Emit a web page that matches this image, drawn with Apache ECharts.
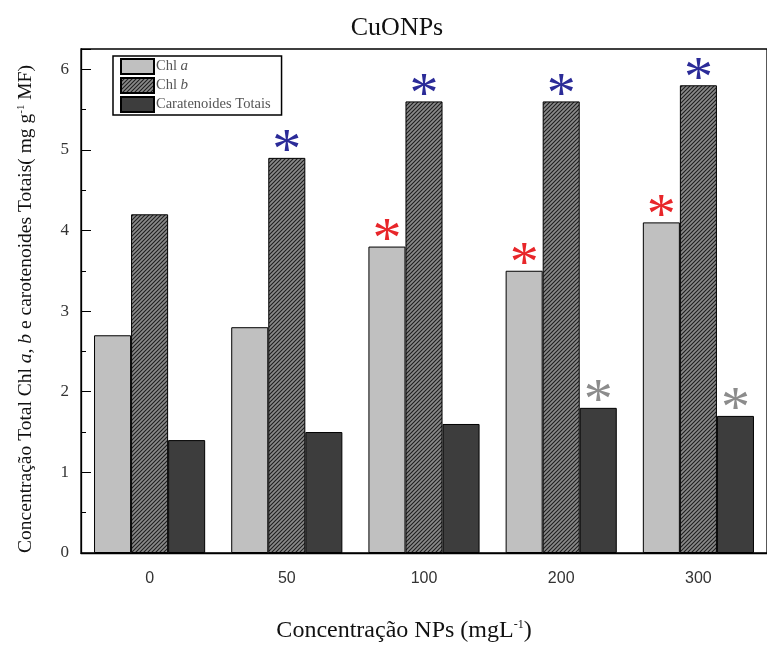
<!DOCTYPE html>
<html>
<head>
<meta charset="utf-8">
<script src="https://cdn.jsdelivr.net/npm/echarts@6/dist/echarts.min.js"></script>
<style>
  html, body { margin: 0; padding: 0; background: #fff; }
  #chart { width: 767px; height: 648px; }
</style>
</head>
<body>
<div id="chart"></div>
<script>
// Nanoparticle concentrations (mg L-1)
const categories = ['0', '50', '100', '200', '300'];

// Pigment contents (mg g-1 MF)
const chlA = [2.7, 2.8, 3.8, 3.5, 4.1];
const chlB = [4.2, 4.9, 5.6, 5.6, 5.8];
const carotenoids = [1.4, 1.5, 1.6, 1.8, 1.7];

// Significance markers (asterisk above the bar)
const sigChlA = [false, false, true, true, true];
const sigChlB = [false, true, true, true, true];
const sigCarot = [false, false, false, true, true];

const yTicks = [0, 1, 2, 3, 4, 5, 6];

const SERIF = '"Liberation Serif", "Times New Roman", serif';

// Diagonal hatch fill for the Chl b bars
function hatchPattern() {
  const s = 4;
  const c = document.createElement('canvas');
  c.width = s; c.height = s;
  const g = c.getContext('2d');
  g.fillStyle = '#8a8a8a';
  g.fillRect(0, 0, s, s);
  g.strokeStyle = '#1e1e1e';
  g.lineWidth = 1.1;
  g.beginPath();
  g.moveTo(-1, s + 1); g.lineTo(s + 1, -1);
  g.moveTo(-1, 1); g.lineTo(1, -1);
  g.moveTo(s - 1, s + 1); g.lineTo(s + 1, s - 1);
  g.stroke();
  return c;
}

function withStars(values, flags, color) {
  return values.map((v, i) => flags[i]
    ? { value: v, label: { show: true, color: color } }
    : v);
}

const starLabel = {
  show: false,
  formatter: '*',
  position: 'top',
  distance: -24,
  fontFamily: SERIF,
  fontSize: 58,
  fontWeight: 'normal'
};

const chart = echarts.init(document.getElementById('chart'), null, { renderer: 'canvas' });

chart.setOption({
  animation: false,
  backgroundColor: '#ffffff',
  title: {
    text: 'CuONPs',
    left: 392,
    textAlign: 'center',
    top: 10,
    textStyle: { fontFamily: SERIF, fontSize: 26, fontWeight: 'normal', color: '#111' }
  },
  legend: {
    left: 113,
    top: 56,
    orient: 'vertical',
    itemWidth: 33,
    itemHeight: 15,
    itemGap: 2,
    padding: [2, 11, 2, 7],
    borderColor: '#000',
    borderWidth: 1.5,
    backgroundColor: '#fff',
    icon: 'rect',
    formatter: function (name) {
      if (name === 'Chl a') return '{n|Chl }{i|a}';
      if (name === 'Chl b') return '{n|Chl }{i|b}';
      return '{n|' + name + '}';
    },
    textStyle: {
      color: '#555',
      fontFamily: SERIF,
      fontSize: 14.5,
      lineHeight: 15,
      padding: [0, 0, 0, -3],
      rich: {
        n: { fontFamily: SERIF, fontSize: 14.5, lineHeight: 15, color: '#555' },
        i: { fontFamily: SERIF, fontSize: 15, lineHeight: 15, fontStyle: 'italic', color: '#555' }
      }
    },
    data: ['Chl a', 'Chl b', 'Caratenoides Totais']
  },
  grid: {
    left: 81,
    top: 49,
    width: 688,
    height: 507,
    show: true,
    borderColor: '#000',
    borderWidth: 1.3
  },
  xAxis: [
    {
      type: 'category',
      data: categories,
      axisLine: { lineStyle: { color: '#000', width: 1.3 } },
      axisTick: { alignWithLabel: true, inside: true, length: 5, lineStyle: { color: '#000' } },
      axisLabel: { margin: 18, color: '#333', fontFamily: '"Liberation Sans", Arial, sans-serif', fontSize: 16 },
      name: 'Concentração NPs (mgL{sup|-1})',
      nameLocation: 'middle',
      nameGap: 66,
      nameTextStyle: {
        fontFamily: SERIF, fontSize: 24, color: '#111',
        padding: [0, 40, 0, 0],
        rich: {
          sup: { fontFamily: SERIF, fontSize: 12, color: '#111', verticalAlign: 'top', lineHeight: 12, padding: [0, 0, 10, 0] }
        }
      }
    },
    {
      // boundary ticks between concentration groups
      type: 'category',
      data: categories,
      position: 'bottom',
      axisLine: { show: false },
      axisTick: { alignWithLabel: false, inside: true, length: 5, lineStyle: { color: '#000' } },
      axisLabel: { show: false }
    }
  ],
  yAxis: {
    type: 'value',
    min: 0,
    max: 6.25,
    interval: 1,
    splitLine: { show: false },
    axisLine: { show: true, lineStyle: { color: '#000', width: 1.3 } },
    axisTick: { show: true, inside: true, length: 10, lineStyle: { color: '#000' } },
    minorTick: { show: true, splitNumber: 2, length: 5, lineStyle: { color: '#000' } },
    axisLabel: {
      showMaxLabel: false,
      margin: 12,
      color: '#333',
      fontFamily: SERIF,
      fontSize: 17,
      formatter: function (v) { return yTicks.indexOf(v) >= 0 ? String(v) : ''; }
    },
    name: 'Concentração Total Chl {i|a}, {i|b} e carotenoides Totais( mg g{sup|-1} MF)',
    nameLocation: 'middle',
    nameRotate: 90,
    nameGap: 45,
    nameTextStyle: {
      fontFamily: SERIF, fontSize: 19.5, color: '#111',
      padding: [0, 16, 0, 0],
      rich: {
        i: { fontFamily: SERIF, fontSize: 19.5, fontStyle: 'italic', color: '#111' },
        sup: { fontFamily: SERIF, fontSize: 11, color: '#111', verticalAlign: 'top', lineHeight: 11, padding: [0, 0, 9, 0] }
      }
    }
  },
  series: [
    {
      name: 'Chl a',
      type: 'bar',
      barGap: '0%',
      barCategoryGap: '19%',
      itemStyle: { color: '#c0c0c0', borderColor: '#000', borderWidth: 1 },
      label: starLabel,
      data: withStars(chlA, sigChlA, '#e8262a')
    },
    {
      name: 'Chl b',
      type: 'bar',
      itemStyle: { color: { image: hatchPattern(), repeat: 'repeat' }, borderColor: '#000', borderWidth: 1 },
      label: starLabel,
      data: withStars(chlB, sigChlB, '#2b2b98')
    },
    {
      name: 'Caratenoides Totais',
      type: 'bar',
      itemStyle: { color: '#3d3d3d', borderColor: '#000', borderWidth: 1 },
      label: starLabel,
      data: withStars(carotenoids, sigCarot, '#8c8c8c')
    }
  ]
});
</script>
</body>
</html>
